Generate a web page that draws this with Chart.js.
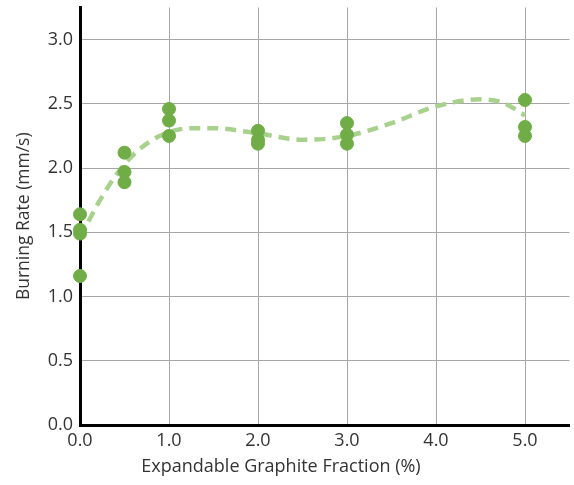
<!DOCTYPE html>
<html>
<head>
<meta charset="utf-8">
<script src="https://cdn.jsdelivr.net/npm/chart.js@4"></script>
<style>
  html, body { margin: 0; padding: 0; background: #fff; overflow: hidden; }
  #wrap { width: 577px; height: 485px; }
</style>
</head>
<body>
<div id="wrap"><canvas id="chart" width="577" height="485"></canvas></div>
<script>
// measured burning rates (mm/s) per graphite fraction (%)
const fractionX = [0, 0, 0, 0, 0.5, 0.5, 0.5, 1, 1, 1, 2, 2, 2, 3, 3, 3, 5, 5, 5];
const burnRate = [1.16, 1.49, 1.52, 1.64, 1.89, 1.97, 2.12, 2.25, 2.37, 2.46, 2.19, 2.22, 2.29, 2.19, 2.26, 2.35, 2.25, 2.32, 2.53];

// polynomial trend line read at a handful of fractions
const trendX = [0, 0.25, 0.5, 0.75, 1, 1.25, 1.5, 2, 2.5, 3, 3.5, 4, 4.5, 4.75, 5];
const trendY = [1.46, 1.78, 2.03, 2.19, 2.28, 2.31, 2.31, 2.27, 2.22, 2.25, 2.35, 2.48, 2.535, 2.51, 2.41];

const xTicks = [0, 1, 2, 3, 4, 5];
const yTicks = [0, 0.5, 1, 1.5, 2, 2.5, 3];
const xTitle = 'Expandable Graphite Fraction (%)';

const textColor = '#333';
const font = { family: "'Open Sans', sans-serif", size: 18 };
const noPadding = () => ({ left: 0, top: 0, right: 0, bottom: 0 });

// x title is centred under the whole canvas, not the plot area
const xTitlePlugin = {
  id: 'xTitle',
  afterDraw(chart) {
    const c = chart.ctx;
    c.save();
    c.font = "18px 'Open Sans', sans-serif";
    c.fillStyle = textColor;
    c.textAlign = 'center';
    c.textBaseline = 'middle';
    c.fillText(xTitle, 281, 467);
    c.restore();
  }
};

const ctx = document.getElementById('chart').getContext('2d');
new Chart(ctx, {
  type: 'scatter',
  data: {
    datasets: [
      {
        label: 'Trend',
        type: 'line',
        data: trendX.map((x, i) => ({ x: x, y: trendY[i] })),
        borderColor: '#a9d18e',
        borderWidth: 4.5,
        borderDash: [11, 7],
        pointRadius: 0,
        cubicInterpolationMode: 'monotone',
        fill: false,
        clip: false,
        order: 2
      },
      {
        label: 'Burning rate',
        data: fractionX.map((x, i) => ({ x: x, y: burnRate[i] })),
        backgroundColor: '#70ad47',
        borderColor: '#70ad47',
        pointRadius: 6.5,
        clip: false,
        order: 1
      }
    ]
  },
  options: {
    responsive: false,
    animation: false,
    layout: { padding: { top: 6, right: 2, left: 0, bottom: 0 } },
    plugins: {
      legend: { display: false },
      tooltip: { enabled: false }
    },
    scales: {
      x: {
        type: 'linear',
        min: 0,
        max: 5.5,
        afterBuildTicks: s => { s.ticks = xTicks.map(v => ({ value: v })); },
        afterFit: s => { s.height = 60; s.getPadding = noPadding; },
        grid: { color: '#a6a6a6', lineWidth: 1, drawTicks: false },
        border: { color: '#000', width: 3 },
        ticks: {
          padding: 5,
          color: textColor,
          font: font,
          maxRotation: 0,
          callback: v => v.toFixed(1)
        }
      },
      y: {
        min: 0,
        max: 3.25,
        afterBuildTicks: s => { s.ticks = yTicks.map(v => ({ value: v })); },
        afterFit: s => { s.width = 80; s.getPadding = noPadding; },
        grid: { color: '#a6a6a6', lineWidth: 1, drawTicks: false },
        border: { color: '#000', width: 3 },
        ticks: {
          padding: 7,
          color: textColor,
          font: font,
          callback: v => v.toFixed(1)
        },
        title: {
          display: true,
          text: 'Burning Rate (mm/s)',
          color: textColor,
          font: { family: "'Open Sans', sans-serif", size: 17.5 },
          padding: { top: 14, bottom: 0 }
        }
      }
    }
  },
  plugins: [xTitlePlugin]
});
</script>
</body>
</html>
